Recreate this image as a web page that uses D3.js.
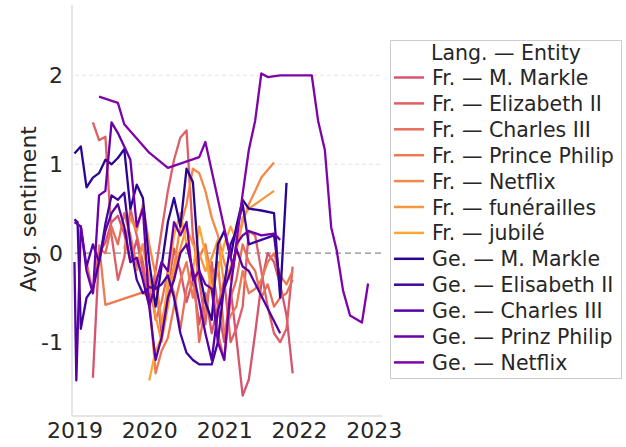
<!DOCTYPE html>
<html>
<head>
<meta charset="utf-8">
<script src="https://cdn.jsdelivr.net/npm/d3@7"></script>
<style>
  body { margin: 0; background: #fff; }
  svg text { font-family: "DejaVu Sans", sans-serif; fill: #262626; }
</style>
</head>
<body>
<div id="chart"></div>
<script>
// series names + colours (legend order)
const seriesNames = [
  "Fr. — M. Markle", "Fr. — Elizabeth II", "Fr. — Charles III", "Fr. — Prince Philip",
  "Fr. — Netflix", "Fr. — funérailles", "Fr. — jubilé",
  "Ge. — M. Markle", "Ge. — Elisabeth II", "Ge. — Charles III", "Ge. — Prinz Philip", "Ge. — Netflix"
];
const seriesColors = [
  "#d5546e", "#de5f65", "#e76e5b", "#ed7953", "#f48849", "#f89540", "#fca636",
  "#2a0593", "#41049d", "#5601a4", "#6a00a8", "#7e03a8"
];

// monthly values, [month index from Jan 2019, avg sentiment]
const frMarkle = [[3,-1.4],[4,0.0],[5,0.12],[6,0.35],[7,0.42],[8,0.22],[9,-0.1],[10,0.15],[11,-0.2],[12,-0.5],[13,-0.3],[14,-0.9],[15,-0.4],[16,0.05],[17,-0.2],[18,-0.55],[19,-0.3],[20,-0.8],[21,-0.45],[22,-0.9],[23,-0.6],[24,-1.0],[25,-0.4],[26,-0.95],[27,-1.6],[28,-1.42],[29,-0.9],[30,-0.35],[31,0.0],[32,-0.1],[33,-0.35],[34,-0.7],[35,-1.35]];
const frElizabeth = [[3,1.47],[4,1.27],[5,1.31],[6,0.2],[7,-0.3],[8,-0.05],[9,0.5],[10,0.2],[11,-0.1],[12,-0.55],[13,-0.2],[14,0.25],[15,0.7],[16,1.05],[17,1.3],[18,1.38],[19,0.2],[20,-0.3],[21,-0.8],[22,-0.1],[23,-0.6],[24,-0.3],[25,-1.0],[26,-0.85],[27,-0.6],[28,0.25],[29,0.2],[30,-0.2],[31,-0.6],[32,-0.9],[33,-1.0],[34,-0.85],[35,-0.15]];
const frCharles = [[2,-0.1],[3,-0.45],[4,0.05],[5,0.0],[6,0.3],[7,0.1],[8,0.45],[9,0.2],[10,-0.15],[11,0.1],[12,-0.3],[13,-0.75],[14,-0.55],[15,-0.2],[16,-0.45],[17,-0.85],[18,-0.4],[19,-0.15],[20,-1.0],[21,-0.6],[22,-0.25],[23,-0.9],[24,-1.2],[25,-0.5],[26,-0.3],[27,0.1],[28,-0.1],[29,-0.2],[30,-0.5],[31,-0.35],[32,-0.6],[33,-0.5],[34,-0.45],[35,-0.3]];
const frPhilip = [[4,0.1],[5,-0.58],[11,-0.44],[12,-0.5],[13,-1.35],[14,-1.1],[15,-0.95],[16,-0.6],[17,-0.3],[18,-0.1],[19,-0.5],[20,-0.05],[21,0.1],[22,-0.3],[23,-0.1],[24,-0.9],[25,-0.7],[26,-0.6],[27,-0.2],[28,-0.45],[29,-0.4],[30,-0.3],[31,-0.1],[32,0.0],[33,-0.25],[34,-0.35],[35,-0.2]];
const frNetflix = [[8,0.05],[9,0.4],[10,0.25],[11,0.55],[12,0.1],[13,-0.25],[14,-0.8],[15,-0.4],[16,-0.15],[17,0.3],[18,0.55],[19,0.95],[20,0.9],[21,0.7],[22,0.4],[23,0.2],[24,-0.1],[25,-0.3],[26,0.05],[27,0.35],[28,0.55],[29,0.7],[30,0.85],[32,1.02]];
const frFunerailles = [[10,-0.2],[11,0.1],[12,-0.3],[13,-0.7],[14,-1.0],[15,-0.6],[16,-0.2],[17,0.05],[18,0.3],[19,0.1],[20,0.0],[21,-0.2],[22,-0.05],[23,0.15],[24,-0.35],[25,-0.15],[26,0.0],[27,0.4],[28,0.5],[30,0.6],[32,0.7]];
const frJubile = [[12,-1.43],[13,-1.1],[14,-0.95],[15,-0.3],[16,0.2],[17,0.45],[18,0.1],[19,-0.2],[20,0.3],[21,0.0],[22,-0.45],[23,-0.2],[24,0.1],[25,0.3],[26,0.15]];
const geMarkle = [[0,1.12],[1,1.2],[2,0.74],[3,0.85],[4,0.9],[5,1.05],[6,1.0],[7,1.07],[8,1.17],[9,0.5],[10,0.77],[11,0.62],[12,-0.1],[13,-0.6],[14,-0.15],[15,0.35],[16,0.62],[17,0.3],[18,0.95],[19,0.8],[20,-0.2],[21,-0.55],[22,-0.75],[23,0.1],[24,0.25],[25,-0.05],[26,0.3],[27,0.6],[28,0.5],[30,0.48],[32,0.45],[33,-0.5],[34,0.79]];
const geElisabeth = [[0,0.38],[0.5,0.35],[1,-0.85],[2,-0.5],[3,-0.4],[4,-0.1],[5,0.33],[6,0.65],[7,0.6],[8,0.68],[9,0.1],[10,-0.3],[11,-0.45],[12,-0.38],[13,-0.4],[14,-0.35],[15,-0.25],[16,-0.5],[17,-0.9],[18,-1.12],[19,-1.2],[20,-1.25],[21,-1.25],[22,-1.25],[23,-1.0],[24,-0.35],[25,0.1],[26,0.25],[27,0.55],[28,0.1],[30,0.15],[32,0.2],[33,-0.35]];
const geCharles = [[0,-0.1],[0.3,-1.43],[1,0.3],[2,-0.15],[3,0.1],[4,-0.1],[5,0.25],[6,0.45],[7,0.55],[8,0.3],[9,-0.1],[10,-0.05],[11,-0.3],[12,-0.6],[13,-1.2],[14,-0.95],[15,-0.5],[16,-0.3],[17,0.0],[18,0.1],[19,-0.2],[20,-0.55],[21,-0.9],[22,-1.2],[23,-0.65],[24,-0.4],[25,-0.2],[26,0.05],[27,-0.15],[28,-0.2],[33,-0.9]];
const gePhilip = [[0,0.35],[1,0.3],[2,-0.2],[3,-0.45],[4,0.65],[5,0.7],[6,1.47],[7,1.35],[8,1.2],[9,1.05],[10,0.3],[11,0.5],[12,-0.6],[13,-0.35],[14,-0.1],[15,-0.2],[16,0.35],[17,0.2],[18,0.35],[19,-0.3],[20,-0.2],[21,-0.35],[22,-0.4],[23,-1.0],[24,-1.2],[25,-0.4],[26,0.1],[27,0.2],[28,0.25],[30,0.2],[32,0.22],[33,0.15]];
const geNetflix = [[4,1.76],[7,1.69],[8,1.45],[12,1.13],[15,0.96],[20,1.08],[21,1.25],[25.4,-0.17],[27,0.67],[28,1.16],[29,1.49],[30,2.02],[31,1.98],[33,2.0],[38.1,2.0],[39.1,1.49],[40.2,1.16],[41.2,0.29],[42.1,0.03],[43.1,-0.42],[44.2,-0.7],[46.1,-0.78],[47.1,-0.34]];

const allSeries = [frMarkle, frElizabeth, frCharles, frPhilip, frNetflix, frFunerailles, frJubile,
  geMarkle, geElisabeth, geCharles, gePhilip, geNetflix];

const yTicks = [-1, 0, 1, 2];
const xTicks = [2019, 2020, 2021, 2022, 2023];

const W = 626, H = 447;
const svg = d3.select("#chart").append("svg").attr("width", W).attr("height", H);

// month index -> date
const toDate = m => {
  const whole = Math.floor(m);
  const d = new Date(2019, whole, 1);
  return new Date(+d + (m - whole) * 30.4 * 864e5);
};

const x = d3.scaleTime()
  .domain([new Date(2018, 11, 20), new Date(2023, 1, 10)])
  .range([72, 382]);
const y = d3.scaleLinear().domain([-1.83, 2.79]).range([416, 5]);

// grid
svg.append("g").selectAll("line")
  .data(yTicks)
  .join("line")
  .attr("x1", 75).attr("x2", 382)
  .attr("y1", d => y(d)).attr("y2", d => y(d))
  .attr("stroke", d => d === 0 ? "#8c8c8c" : "#e3e3e3")
  .attr("stroke-width", d => d === 0 ? 1.3 : 1)
  .attr("stroke-dasharray", d => d === 0 ? "6,4" : "4,3");

// spines
svg.append("line").attr("x1", 72).attr("x2", 72).attr("y1", 5).attr("y2", 416)
  .attr("stroke", "#dcdcdc").attr("stroke-width", 1.5);
svg.append("line").attr("x1", 72).attr("x2", 382).attr("y1", 416).attr("y2", 416)
  .attr("stroke", "#dcdcdc").attr("stroke-width", 1.5);

// lines
const line = d3.line().x(d => x(toDate(d[0]))).y(d => y(d[1]));
svg.append("g").selectAll("path")
  .data(allSeries)
  .join("path")
  .attr("d", line)
  .attr("fill", "none")
  .attr("stroke", (d, i) => seriesColors[i])
  .attr("stroke-width", 2.3)
  .attr("stroke-linejoin", "round");

// y axis (plain hyphen minus like the original)
const yAxis = svg.append("g").attr("transform", "translate(72,0)")
  .call(d3.axisLeft(y).tickValues(yTicks).tickSize(0).tickPadding(9).tickFormat(d => String(d)));
yAxis.select(".domain").remove();
yAxis.selectAll("text").style("font-size", "22px").attr("fill", "#262626");

// x axis
const xAxis = svg.append("g").attr("transform", "translate(0,416)")
  .call(d3.axisBottom(x).tickValues(xTicks.map(t => new Date(t, 0, 1))).tickSize(0).tickPadding(6).tickFormat(d3.timeFormat("%Y")));
xAxis.select(".domain").remove();
xAxis.selectAll("text").style("font-size", "22px").attr("fill", "#262626");

svg.append("text")
  .attr("transform", "translate(36,209) rotate(-90)")
  .attr("text-anchor", "middle")
  .style("font-size", "22px")
  .text("Avg. sentiment");

// legend
const lg = svg.append("g");
lg.append("rect").attr("x", 390.5).attr("y", 40.5).attr("width", 231).attr("height", 338)
  .attr("fill", "#fff").attr("stroke", "#cccccc");
lg.append("text").attr("x", 506).attr("y", 60).attr("text-anchor", "middle")
  .style("font-size", "20.5px").text("Lang. — Entity");
const rows = lg.selectAll("g.row").data(seriesNames).join("g")
  .attr("class", "row")
  .attr("transform", (d, i) => `translate(0,${77.5 + i * 25.9})`);
rows.append("line").attr("x1", 394).attr("x2", 424)
  .attr("stroke", (d, i) => seriesColors[i]).attr("stroke-width", 2.5);
rows.append("text").attr("x", 432).attr("y", 7.5)
  .style("font-size", "20.5px").text(d => d);
</script>
</body>
</html>
